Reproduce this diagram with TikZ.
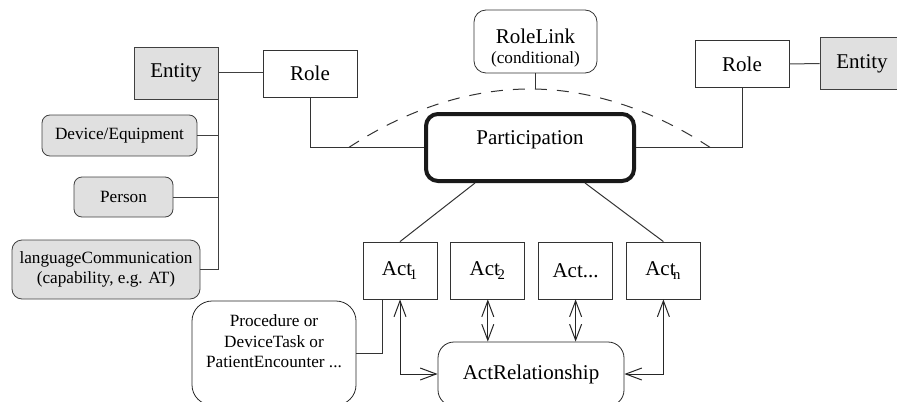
\documentclass[tikz,border=0pt]{standalone}
\usepackage{fontspec}
\setmainfont{Liberation Serif}
\newfontfamily\diagserif{Liberation Serif}
\usetikzlibrary{arrows.meta,positioning,calc}

\newcommand{\txtbig}{\diagserif\fontsize{10.5}{12}\selectfont}
\newcommand{\txtsmall}{\diagserif\fontsize{8.6}{10.25}\selectfont}
\newcommand{\actsub}[1]{Act\kern-1.2pt\textsubscript{#1}}

\begin{document}
\begin{tikzpicture}[
  x=0.5pt,y=-0.5pt,
  node distance=6.5pt,
  ent/.style={draw=black!75,fill=black!12,rectangle,
    minimum width=42pt,minimum height=26pt,font=\txtbig},
  role/.style={draw=black!80,fill=white,rectangle,
    minimum width=47pt,minimum height=23.5pt,font=\txtbig},
  kind/.style={draw=black!75,fill=black!12,rounded corners=4pt,align=center,font=\txtsmall},
  act/.style={draw=black!80,rectangle,minimum width=37pt,minimum height=28.5pt,font=\txtbig},
  link/.style={draw=black!80,line width=0.5pt},
  dual/.style={{Straight Barb[length=8pt,width=6pt]}-{Straight Barb[length=8pt,width=6pt]},
    draw=black!85,line width=0.5pt}
]
  \useasboundingbox (0,0) rectangle (897,401);

  % entity side, left
  \node[ent] (entL) at (176,73) {Entity};
  \node[role] (roleL) at (310,73.5) {Role};
  \node[kind,minimum width=77.5pt,minimum height=20.5pt] (dev) at (119.5,135.5) {Device/Equipment};
  \node[kind,minimum width=49.5pt,minimum height=20pt] (person) at (123.5,197) {Person};
  \node[kind,minimum width=94pt,minimum height=29.5pt,rounded corners=5pt] (lang) at (106,269.5)
    {languageCommunication\\(capability, e.g. AT)};

  % participation and role link
  \node[draw=black!90,line width=2pt,rounded corners=6pt,minimum width=104pt,minimum height=33.5pt,
    font=\txtbig,text height=7.5pt,text depth=10.3pt] (part) at (530,147.5) {Participation};
  \node[draw=black!80,rounded corners=6pt,minimum width=61.5pt,minimum height=31.5pt,align=center,
    font=\txtsmall,inner ysep=0pt,text height=25pt,text depth=2.5pt] (rolelink) at (535.5,41.5)
    {{\txtbig RoleLink}\\(conditional)};

  % entity side, right
  \node[role] (roleR) at (742,64) {Role};
  \node[ent] (entR) at (862,63.5) {Entity};

  % acts
  \node[act] (act1) at (400,270.5) {\actsub{1}};
  \node[act,right=of act1] (act2) {\actsub{2}};
  \node[act,right=of act2] (actd) {Act...};
  \node[act,right=of actd] (actn) {\actsub{n}};

  \node[draw=black!85,rounded corners=10pt,minimum width=82pt,minimum height=52pt,align=center,
    font=\txtsmall,text depth=11.6pt] (proc) at (274,353)
    {Procedure or\\DeviceTask or\\PatientEncounter ...};
  \node[draw=black!85,rounded corners=8pt,minimum width=93pt,minimum height=32pt,font=\txtbig]
    (actrel) at (531,374) {ActRelationship};

  % connectors
  \draw[link,draw=black!75] (entL.east) -- (entL.east -| roleL.west);
  \draw[link,draw=black!75] (entL.south east) -- (entL.south east |- lang.east);
  \draw[link,draw=black!75] (dev.east) -- (dev.east -| entL.south east);
  \draw[link,draw=black!75] (person.east) -- (person.east -| entL.south east);
  \draw[link,draw=black!75] (lang.east) -- (lang.east -| entL.south east);
  \draw[link] (roleL.south) |- (part.west);
  \draw[link] (roleR.south) |- (part.east);
  \draw[link,draw=black!75] (roleR.east) -- (entR.west);

  \coordinate (arcL) at ($(roleL.south |- part.west)!0.34!(part.west)$);
  \coordinate (arcR) at ($(part.east)!0.7!(roleR.south |- part.east)$);
  \coordinate (arcTop) at (530,89);
  \draw[link,dash pattern=on 6pt off 5pt] (arcL) parabola bend (arcTop) (arcR);
  \draw[link] (rolelink.south) -- (rolelink.south |- arcTop);

  \draw[link] ([xshift=-27.5pt]part.south) -- (act1.north);
  \draw[link] ([xshift=27.5pt]part.south) -- (actn.north);
  \draw[link] ([xshift=-9pt]act1.south) |- (proc.east);

  \draw[dual] (act1.south) |- (actrel.west);
  \draw[dual] (act2.south) -- (act2.south |- actrel.north);
  \draw[dual] (actd.south) -- (actd.south |- actrel.north);
  \draw[dual] (actn.south) |- (actrel.east);
\end{tikzpicture}
\end{document}
